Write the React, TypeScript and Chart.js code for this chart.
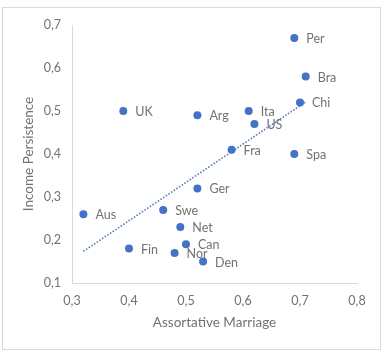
import React, { useEffect, useRef } from "react";
import { Chart, registerables } from "chart.js";

Chart.register(...registerables);

const countries = ["UK", "Arg", "Per", "Bra", "Chi", "Ita", "US", "Fra", "Spa", "Ger", "Aus", "Swe", "Net", "Fin", "Can", "Nor", "Den"];
const assortativeMarriage = [0.39, 0.52, 0.69, 0.71, 0.70, 0.61, 0.62, 0.58, 0.69, 0.52, 0.32, 0.46, 0.49, 0.40, 0.50, 0.48, 0.53];
const incomePersistence = [0.50, 0.49, 0.67, 0.58, 0.52, 0.50, 0.47, 0.41, 0.40, 0.32, 0.26, 0.27, 0.23, 0.18, 0.19, 0.17, 0.15];

const FONT = "Lato, 'Open Sans', sans-serif";
const TEXT = "#727272";
const BLUE = "#4472C4";

function regression(xs: number[], ys: number[]) {
  const n = xs.length;
  const mx = xs.reduce((a, b) => a + b, 0) / n;
  const my = ys.reduce((a, b) => a + b, 0) / n;
  let sxy = 0, sxx = 0;
  for (let i = 0; i < n; i++) {
    sxy += (xs[i] - mx) * (ys[i] - my);
    sxx += (xs[i] - mx) ** 2;
  }
  const slope = sxy / sxx;
  return { slope, intercept: my - slope * mx };
}

const labelPlugin = {
  id: "pointLabels",
  beforeDraw(chart: any) {
    const ctx = chart.ctx;
    ctx.save();
    ctx.strokeStyle = "#d9d9d9";
    ctx.lineWidth = 1;
    ctx.strokeRect(2.5, 7.5, 378, 342);
    ctx.restore();
  },
  afterDatasetsDraw(chart: any) {
    const ctx = chart.ctx;
    const meta = chart.getDatasetMeta(0);
    ctx.save();
    ctx.font = `12.5px ${FONT}`;
    ctx.fillStyle = TEXT;
    ctx.textAlign = "left";
    ctx.textBaseline = "middle";
    meta.data.forEach((pt: any, i: number) => {
      ctx.fillText(countries[i], pt.x + 12, pt.y + 1);
    });
    ctx.restore();
  },
};

export default function App() {
  const ref = useRef<HTMLCanvasElement>(null);
  useEffect(() => {
    const { slope, intercept } = regression(assortativeMarriage, incomePersistence);
    const minX = Math.min(...assortativeMarriage);
    const maxX = Math.max(...assortativeMarriage);
    const chart = new Chart(ref.current!, {
      type: "scatter",
      data: {
        datasets: [
          {
            label: "Countries",
            data: assortativeMarriage.map((x, i) => ({ x, y: incomePersistence[i] })),
            backgroundColor: BLUE,
            borderColor: BLUE,
            pointRadius: 4,
            pointBorderWidth: 0,
          },
          {
            type: "line",
            label: "Trend",
            data: [
              { x: minX, y: intercept + slope * minX },
              { x: maxX, y: intercept + slope * maxX },
            ],
            borderColor: "#5a7fbf",
            borderWidth: 1.6,
            borderDash: [1.6, 1.6],
            pointRadius: 0,
            fill: false,
          } as any,
        ],
      },
      options: {
        animation: false,
        responsive: false,
        layout: { padding: { left: 0, right: 28, top: 25, bottom: 0 } },
        plugins: { legend: { display: false }, tooltip: { enabled: false } },
        scales: {
          x: {
            type: "linear",
            min: 0.3,
            max: 0.8,
            afterFit: (s: any) => { s.height = 69; },
            grid: { display: true, color: "transparent", drawTicks: false },
            border: { display: true, color: "#d9d9d9", width: 1 },
            ticks: {
              stepSize: 0.1,
              padding: 10,
              color: TEXT,
              font: { family: FONT, size: 12.5 },
              callback: (v: any) => Number(v).toFixed(1).replace(".", ","),
            },
            title: {
              display: true,
              text: "Assortative Marriage",
              color: TEXT,
              font: { family: FONT, size: 13.5 },
              padding: { top: 0, bottom: 21 },
            },
          },
          y: {
            type: "linear",
            min: 0.1,
            max: 0.7,
            afterFit: (s: any) => { s.width = 72; },
            grid: { display: true, color: "transparent", drawTicks: false },
            border: { display: true, color: "#d9d9d9", width: 1 },
            ticks: {
              stepSize: 0.1,
              padding: 11,
              color: TEXT,
              font: { family: FONT, size: 12.5 },
              callback: (v: any) => Number(v).toFixed(1).replace(".", ","),
            },
            title: {
              display: true,
              text: "Income Persistence",
              color: TEXT,
              font: { family: FONT, size: 13.5 },
              padding: { top: 21, bottom: 0 },
            },
          },
        },
      },
      plugins: [labelPlugin],
    });
    return () => chart.destroy();
  }, []);
  return (
    <div style={{ position: "absolute", left: 0, top: 0, width: 385, height: 352, background: "#fff" }}>
      <canvas ref={ref} width={385} height={352} />
    </div>
  );
}
